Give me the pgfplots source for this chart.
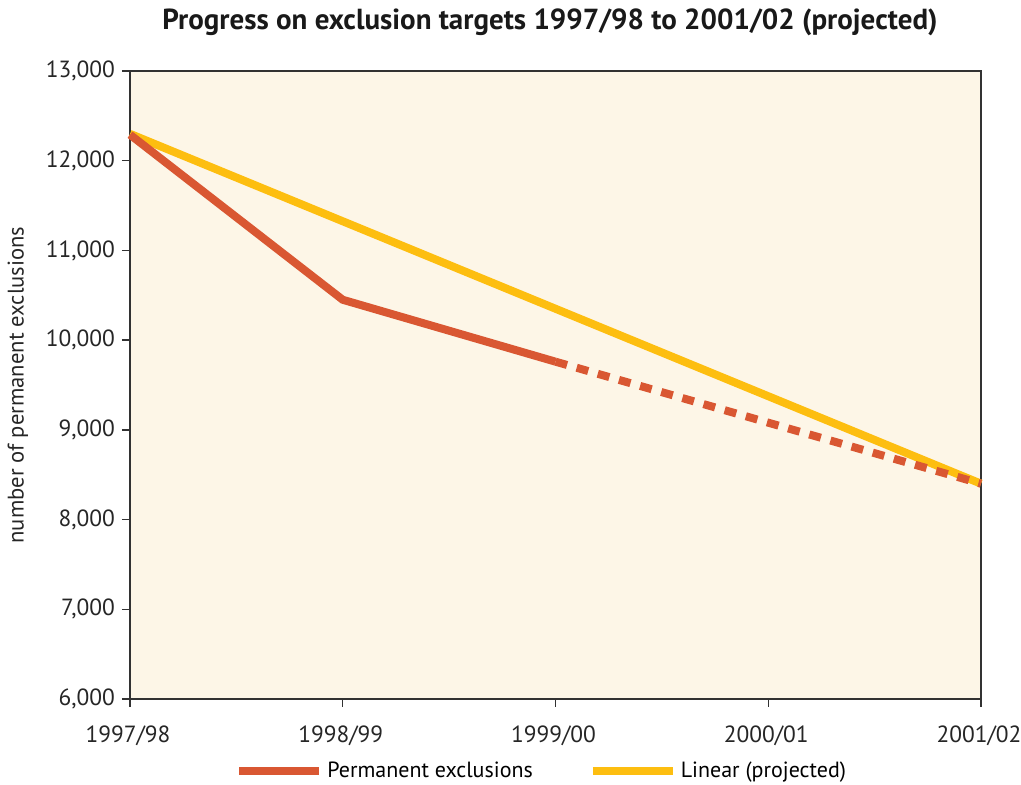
\documentclass[border=0pt]{standalone}
\usepackage{fontspec}
\setmainfont{PT Sans}
\usepackage{pgfplots}
\pgfplotsset{compat=1.18}
\definecolor{bg}{RGB}{253,246,231}
\definecolor{redl}{RGB}{217,87,50}
\definecolor{yel}{RGB}{253,190,16}
\definecolor{axc}{RGB}{50,50,50}
\begin{document}
\begin{tikzpicture}
\useasboundingbox (-65pt,-43pt) rectangle (445.5pt,349.5pt);
\node[font=\bfseries\fontsize{14.5}{16}\selectfont, text=black!90] at (210pt,338.5pt) {Progress on exclusion targets 1997/98 to 2001/02 (projected)};
\begin{axis}[
  at={(0,0)}, anchor=south west,
  scale only axis, width=425.5pt, height=314pt,
  xmin=0, xmax=4, ymin=6000, ymax=13000,
  xtick={0,1,2,3,4},
  xticklabels={1997/98,1998/99,1999/00,2000/01,2001/02},
  ytick={6000,7000,8000,9000,10000,11000,12000,13000},
  scaled y ticks=false,
  /pgf/number format/1000 sep={,},
  /pgf/number format/assume math mode=true,
  ticklabel style={font=\fontsize{11.7}{14}\selectfont, text=black!85},
  tick align=outside, tick pos=left,
  major tick length=4pt,
  axis line style={axc, line width=0.7pt},
  every tick/.style={axc, line width=0.7pt},
  axis background/.style={fill=bg},
  ylabel={number of permanent exclusions},
  ylabel style={font=\fontsize{11.3}{13}\selectfont, text=black!85, at={(axis description cs:-0.1316,0.5)}, anchor=center},
  xticklabel style={yshift=-6pt, xshift=-1pt},
  legend style={at={(0.485,-0.115)}, anchor=center, draw=none, fill=none,
    legend columns=2, font=\fontsize{11}{13}\selectfont,
    /tikz/every even column/.append style={column sep=26pt}},
  legend image code/.code={\draw[#1, line width=4pt] (0pt,0pt) -- (40pt,0pt);},
  clip=false,
]
\addlegendimage{redl, line width=4pt}
\addlegendentry{Permanent exclusions}
\addlegendimage{yel, line width=4pt}
\addlegendentry{Linear (projected)}
\addplot[yel, line width=4pt, forget plot] coordinates {(0,12300) (4,8400)};
\addplot[redl, line width=4pt, forget plot, line join=miter] coordinates {(0,12290) (1,10450) (2,9760)};
\addplot[redl, line width=4pt, forget plot, dash pattern=on 6pt off 5pt, line cap=butt] coordinates {(2,9760) (4,8400)};
\end{axis}
\end{tikzpicture}
\end{document}
